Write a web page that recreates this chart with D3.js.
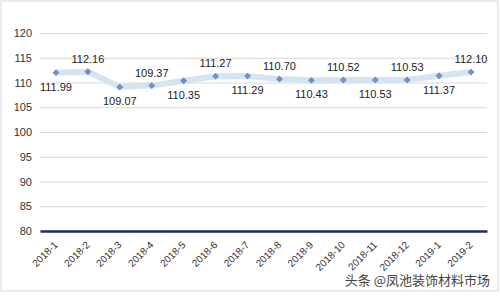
<!DOCTYPE html>
<html><head><meta charset="utf-8">
<script src="https://cdn.jsdelivr.net/npm/d3@7"></script>
<style>body{margin:0;background:#fff}svg{display:block}</style>
</head><body>
<svg id="c" width="500" height="296"></svg>
<script>
const categories = ["2018-1","2018-2","2018-3","2018-4","2018-5","2018-6","2018-7","2018-8","2018-9","2018-10","2018-11","2018-12","2019-1","2019-2"];
const values = [111.99,112.16,109.07,109.37,110.35,111.27,111.29,110.70,110.43,110.52,110.53,110.53,111.37,112.10];
const yTicks = [80,85,90,95,100,105,110,115,120];

(function(){
const svg = d3.select("#c");
const pL = 40, pR = 487, pT = 33, pB = 231;
const x = d3.scaleBand().domain(categories).range([pL, pR]);
const y = d3.scaleLinear().domain([80,120]).range([pB, pT]);
const cx = d => x(d) + x.bandwidth()/2;

svg.append("rect").attr("x",1).attr("y",1).attr("width",497).attr("height",290)
  .attr("fill","#fff").attr("stroke","#d9d9d9").attr("stroke-width",1);

const yAxis = d3.axisLeft(y).tickValues(yTicks).tickSize(-(pR-pL)).tickPadding(8);
const gy = svg.append("g").attr("transform",`translate(${pL},0)`).call(yAxis);
gy.select(".domain").remove();
gy.selectAll(".tick line").attr("stroke","#d9d9d9");
gy.selectAll(".tick text").attr("font-family","Liberation Sans, Arial, sans-serif").attr("font-size","11px").attr("fill","#333");

const xAxis = d3.axisBottom(x).tickSize(0).tickPadding(0);
const gx = svg.append("g").attr("transform",`translate(0,${pB})`).call(xAxis);
gx.select(".domain").attr("stroke","#1f2c5c").attr("stroke-width",2.5);
gx.selectAll(".tick text").attr("font-family","Liberation Sans, Arial, sans-serif").attr("font-size","10px").attr("fill","#333")
  .attr("text-anchor","end").attr("y",0).attr("dy","0.35em").attr("transform","translate(0,12) rotate(-45)");

const line = d3.line().x((d,i)=>cx(categories[i])).y(d=>y(d));
svg.append("path").datum(values).attr("d",line).attr("fill","none")
  .attr("stroke","#d6e3f1").attr("stroke-width",6).attr("stroke-linejoin","round");

svg.selectAll(".m").data(values).enter().append("path")
  .attr("d", d3.symbol(d3.symbolSquare, 24))
  .attr("transform",(d,i)=>`translate(${cx(categories[i])},${y(d)}) rotate(45)`)
  .attr("fill","#7090c6");

svg.selectAll(".lbl").data(values).enter().append("text")
  .attr("x",(d,i)=>cx(categories[i]))
  .attr("y",(d,i)=>y(d) + (i%2===0 ? 18 : -9))
  .attr("text-anchor","middle")
  .attr("font-family","Liberation Sans, Arial, sans-serif").attr("font-size","11px").attr("fill","#222")
  .text(d=>d.toFixed(2));

svg.append("text").attr("x",490).attr("y",285).attr("text-anchor","end")
  .attr("font-family","Noto Sans CJK SC, sans-serif").attr("font-size","13px").attr("fill","#444")
  .text("头条 @凤池装饰材料市场");
})();
</script>
</body></html>
